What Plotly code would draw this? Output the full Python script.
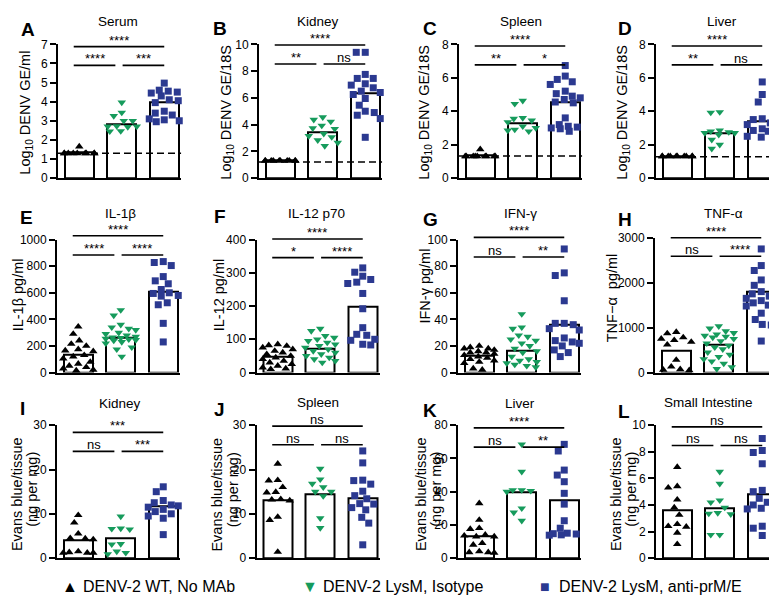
import plotly.graph_objects as go

W, H = 777, 603
FONT = 'Liberation Sans, Arial, Helvetica, sans-serif'

group_names = ['DENV-2 WT, No MAb', 'DENV-2 LysM, Isotype', 'DENV-2 LysM, anti-prM/E']

# A  serum (log10 DENV GE/ml)
serum_wt = [1.65, 1.3, 1.3, 1.3, 1.3, 1.3, 1.3, 1.3, 1.3, 1.3]
serum_iso = [3.96, 3.43, 3.25, 3.0, 3.0, 2.72, 2.7, 2.7, 2.68, 2.46, 2.45]
serum_prm = [4.97, 4.6, 4.55, 4.5, 4.45, 4.3, 4.1, 4.05, 3.95, 3.5, 3.4, 3.3, 3.1, 3.05, 3.0, 2.95]
serum_bar = [1.35, 2.84, 3.99]
serum_sig = ['****', '****', '***']
serum_sig_y = [6.88, 5.9]
serum_lod = 1.3

# B  kidney (log10 DENV GE/18S)
kidney_wt = [1.3, 1.3, 1.3, 1.3, 1.3, 1.3, 1.3, 1.3, 1.3, 1.3]
kidney_iso = [4.55, 4.37, 4.23, 3.93, 3.73, 3.68, 3.32, 3.15, 3.07, 2.83, 2.65, 2.4]
kidney_prm = [9.4, 9.4, 7.75, 7.45, 7.45, 7.05, 6.95, 6.75, 6.5, 6.4, 6.25, 5.95, 5.45, 5.0, 4.9, 4.7, 4.45, 3.05]
kidney_bar = [1.3, 3.39, 6.35]
kidney_sig = ['****', '**', 'ns']
kidney_sig_y = [9.95, 8.53]
kidney_lod = 1.2

# C  spleen (log10 DENV GE/18S)
spleen_wt = [1.72, 1.3, 1.3, 1.3, 1.3, 1.3, 1.3, 1.3, 1.3, 1.3]
spleen_iso = [4.63, 4.44, 3.6, 3.55, 3.45, 3.35, 3.1, 3.0, 2.9, 2.85, 2.8]
spleen_prm = [6.73, 6.1, 5.9, 5.76, 5.6, 5.2, 5.05, 4.9, 4.8, 4.7, 4.55, 4.5, 3.6, 3.2, 3.1, 3.05, 3.0, 2.95, 2.8]
spleen_bar = [1.37, 3.28, 4.53]
spleen_sig = ['****', '**', '*']
spleen_sig_y = [7.9, 6.77]
spleen_lod = 1.32

# D  liver (log10 DENV GE/18S)
liver_wt = [1.3, 1.3, 1.3, 1.3, 1.3, 1.3, 1.3, 1.3, 1.3, 1.3]
liver_iso = [3.95, 3.92, 2.85, 2.8, 2.75, 2.7, 2.7, 2.6, 2.3, 2.0, 1.76]
liver_prm = [5.75, 5.0, 4.55, 3.55, 3.5, 3.3, 3.2, 2.95, 2.9, 2.85, 2.8, 2.5, 2.45, 2.4]
liver_bar = [1.33, 2.67, 3.38]
liver_sig = ['****', '**', 'ns']
liver_sig_y = [7.9, 6.77]
liver_lod = 1.28

# E  IL-1b (pg/ml)
il1b_wt = [345, 290, 240, 215, 200, 175, 165, 160, 130, 120, 105, 80, 65, 50, 40, 30, 20, 15]
il1b_iso = [470, 430, 360, 340, 330, 320, 300, 290, 280, 270, 265, 260, 255, 250, 245, 240, 230, 220, 190, 175, 120]
il1b_prm = [835, 828, 805, 722, 690, 668, 625, 600, 595, 580, 575, 525, 510, 370, 230]
il1b_bar = [135, 263, 612]
il1b_sig = ['****', '****', '****']
il1b_sig_y = [1029, 884]

# F  IL-12 p70 (pg/ml)
il12_wt = [85, 82, 80, 75, 70, 65, 60, 55, 50, 45, 40, 35, 30, 25, 20, 15, 12, 10]
il12_iso = [132, 125, 110, 105, 100, 95, 90, 85, 80, 75, 70, 65, 60, 55, 50, 45, 40, 35, 30]
il12_prm = [315, 302, 290, 280, 272, 268, 238, 192, 135, 115, 112, 100, 97, 85, 83]
il12_bar = [49, 71, 197]
il12_sig = ['****', '*', '****']
il12_sig_y = [402, 346]

# G  IFN-g (pg/ml)
ifng_wt = [20, 19, 18, 18, 17, 16, 15, 15, 14, 13, 12, 11, 10, 9, 8, 7, 3, 2]
ifng_iso = [44, 34, 33, 28, 27, 25, 24, 22, 20, 18, 16, 15, 12, 10, 9, 8, 7, 6, 5, 4]
ifng_prm = [93, 75, 73, 54, 37, 37, 36, 33, 32, 26, 24, 23, 22, 20, 17, 15, 12]
ifng_bar = [12.8, 16.5, 36]
ifng_sig = ['****', 'ns', '**']
ifng_sig_y = [101.7, 87]

# H  TNF-a (pg/ml)
tnfa_wt = [900, 870, 780, 750, 720, 680, 620, 280, 130, 70, 60, 50]
tnfa_iso = [1030, 980, 920, 880, 850, 820, 800, 780, 750, 700, 650, 600, 560, 520, 450, 400,
            350, 300, 250, 200, 120, 80]
tnfa_prm = [2750, 2380, 2270, 2060, 1940, 1800, 1750, 1700, 1650, 1600, 1570, 1550, 1500, 1480,
            1320, 1180, 1070, 1060, 700]
tnfa_bar = [486, 616, 1790]
tnfa_sig = ['****', 'ns', '****']
tnfa_sig_y = [3000, 2587]

# I  Evans blue, kidney (ng per mg)
eb_kidney_wt = [9.7, 8.0, 5.5, 4.5, 4.4, 4.2, 1.5, 1.3, 1.2, 1.2, 1.2]
eb_kidney_iso = [9.4, 6.7, 6.6, 6.5, 3.2, 3.1, 1.5, 1.2, 0.9]
eb_kidney_prm = [16.1, 15.0, 13.0, 12.5, 12.0, 11.8, 11.5, 11.0, 10.5, 10.0, 9.5, 9.0, 5.3]
eb_kidney_bar = [4.05, 4.4, 11.6]
eb_kidney_sig = ['***', 'ns', '***']
eb_kidney_sig_y = [28.4, 24.1]

# J  Evans blue, spleen
eb_spleen_wt = [21.3, 17.6, 17.5, 16.0, 14.9, 14.8, 13.3, 13.2, 13.0, 9.3, 8.6, 1.4]
eb_spleen_iso = [20.2, 17.8, 16.8, 16.0, 15.0, 15.0, 14.0, 9.0, 6.8]
eb_spleen_prm = [24.2, 21.5, 17.6, 17.5, 16.7, 15.1, 14.1, 13.4, 12.3, 12.2, 11.4, 10.9, 9.2, 7.9, 3.0]
eb_spleen_bar = [13.0, 14.4, 13.6]
eb_spleen_sig = ['ns', 'ns', 'ns']
eb_spleen_sig_y = [29.8, 25.6]

# K  Evans blue, liver
eb_liver_wt = [33, 23, 18, 17.5, 14, 13.5, 13, 13, 9, 8, 4, 3.5, 3.5, 3.2]
eb_liver_iso = [68.5, 52, 41, 41, 40.5, 40, 30, 27.5, 22.5]
eb_liver_prm = [68.5, 64.5, 53, 50, 46, 39, 32.5, 22.5, 18, 15, 14.7, 14.5, 14, 13.8]
eb_liver_bar = [13.2, 39.7, 34.8]
eb_liver_sig = ['****', 'ns', '**']
eb_liver_sig_y = [78.4, 66.8]

# L  Evans blue, small intestine
eb_si_wt = [6.85, 5.4, 5.3, 4.4, 3.8, 3.25, 2.55, 2.4, 2.35, 1.9, 1.05]
eb_si_iso = [6.5, 5.6, 4.35, 4.2, 3.8, 3.4, 3.35, 3.3, 1.75, 1.75]
eb_si_prm = [9.0, 8.1, 7.95, 7.1, 5.1, 5.0, 4.5, 4.2, 4.0, 3.85, 3.75, 3.7, 2.4, 2.25, 1.7]
eb_si_bar = [3.6, 3.76, 4.84]
eb_si_sig = ['ns', 'ns', 'ns']
eb_si_sig_y = [9.88, 8.48]

# ---------------- panel layout (pixel positions) ----------------
LOG_GE_ML = ['Log<sub>10</sub> DENV GE/ml']
LOG_GE_18S = ['Log<sub>10</sub> DENV GE/18S']
EVANS = ['Evans blue/tissue', '(ng per mg)']

panels = [
    dict(letter='A', title='Serum', ytitle=LOG_GE_ML, pts=[serum_wt, serum_iso, serum_prm],
         bar=serum_bar, sig=serum_sig, sig_y=serum_sig_y, lod=serum_lod, ymax=7, dtick=1,
         x0=50, top=30, bottom=167, lxy=(20, 15), txy=(110, 7), yt=[(18, 100)]),
    dict(letter='B', title='Kidney', ytitle=LOG_GE_18S, pts=[kidney_wt, kidney_iso, kidney_prm],
         bar=kidney_bar, sig=kidney_sig, sig_y=kidney_sig_y, lod=kidney_lod, ymax=10, dtick=2,
         x0=251, top=30, bottom=167, lxy=(212, 14), txy=(310, 7), yt=[(219, 100)]),
    dict(letter='C', title='Spleen', ytitle=LOG_GE_18S, pts=[spleen_wt, spleen_iso, spleen_prm],
         bar=spleen_bar, sig=spleen_sig, sig_y=spleen_sig_y, lod=spleen_lod, ymax=8, dtick=2,
         x0=451, top=30, bottom=167, lxy=(422, 14), txy=(513, 7), yt=[(417, 100)]),
    dict(letter='D', title='Liver', ytitle=LOG_GE_18S, pts=[liver_wt, liver_iso, liver_prm],
         bar=liver_bar, sig=liver_sig, sig_y=liver_sig_y, lod=liver_lod, ymax=8, dtick=2,
         x0=648, top=30, bottom=167, lxy=(617, 14), txy=(714, 7), yt=[(615, 100)]),
    dict(letter='E', title='IL-1β', ytitle=['IL-1β pg/ml'], pts=[il1b_wt, il1b_iso, il1b_prm],
         bar=il1b_bar, sig=il1b_sig, sig_y=il1b_sig_y, lod=None, ymax=1000, dtick=200,
         x0=49, top=230, bottom=366, lxy=(18, 207), txy=(112, 203), yt=[(10, 287)]),
    dict(letter='F', title='IL-12 p70', ytitle=['IL-12 pg/ml'], pts=[il12_wt, il12_iso, il12_prm],
         bar=il12_bar, sig=il12_sig, sig_y=il12_sig_y, lod=None, ymax=400, dtick=100,
         x0=248.5, top=230, bottom=366, lxy=(212, 206), txy=(308, 203), yt=[(211, 287)]),
    dict(letter='G', title='IFN-γ', ytitle=['IFN-γ pg/ml'], pts=[ifng_wt, ifng_iso, ifng_prm],
         bar=ifng_bar, sig=ifng_sig, sig_y=ifng_sig_y, lod=None, ymax=100, dtick=20,
         x0=450, top=230, bottom=366, lxy=(422, 209), txy=(512, 203), yt=[(417, 278)]),
    dict(letter='H', title='TNF-α', ytitle=['TNF−α  pg/ml'], pts=[tnfa_wt, tnfa_iso, tnfa_prm],
         bar=tnfa_bar, sig=tnfa_sig, sig_y=tnfa_sig_y, lod=None, ymax=3000, dtick=1000,
         x0=647, top=228, bottom=366, lxy=(617, 209), txy=(715, 203), yt=[(604, 290)]),
    dict(letter='I', title='Kidney', ytitle=EVANS, pts=[eb_kidney_wt, eb_kidney_iso, eb_kidney_prm],
         bar=eb_kidney_bar, sig=eb_kidney_sig, sig_y=eb_kidney_sig_y, lod=None, ymax=30, dtick=10,
         x0=49, top=420, bottom=556, lxy=(14, 403), txy=(112, 398), yt=[(8.5, 491), (24, 486)]),
    dict(letter='J', title='Spleen', ytitle=EVANS, pts=[eb_spleen_wt, eb_spleen_iso, eb_spleen_prm],
         bar=eb_spleen_bar, sig=eb_spleen_sig, sig_y=eb_spleen_sig_y, lod=None, ymax=30, dtick=10,
         x0=248.5, top=420, bottom=556, lxy=(212, 404), txy=(310, 397), yt=[(209, 491), (224.5, 486)]),
    dict(letter='K', title='Liver', ytitle=EVANS, pts=[eb_liver_wt, eb_liver_iso, eb_liver_prm],
         bar=eb_liver_bar, sig=eb_liver_sig, sig_y=eb_liver_sig_y, lod=None, ymax=80, dtick=20,
         x0=450, top=420, bottom=556, lxy=(422, 405), txy=(512, 398), yt=[(412.5, 491), (428, 486)]),
    dict(letter='L', title='Small Intestine', ytitle=EVANS, pts=[eb_si_wt, eb_si_iso, eb_si_prm],
         bar=eb_si_bar, sig=eb_si_sig, sig_y=eb_si_sig_y, lod=None, ymax=10, dtick=2,
         x0=648, top=420, bottom=556, lxy=(616, 406), txy=(700, 397), yt=[(607.5, 491), (623, 486)]),
]

XMIN, XMAX = -0.5, 2.4
PX_PER_X = 42.5
BAR_W = 0.69

symbols = ['triangle-up', 'triangle-down', 'square']
colors = ['#000000', '#169b5c', '#2b3990']
sizes = [7.5, 7.5, 7]


def swarm(vals, px_per_y, half=15, dmin=8.5):
    # spread points sideways so that they do not sit on top of each other
    order = sorted(range(len(vals)), key=lambda k: -vals[k])
    cands = sorted(range(-half, half + 1), key=abs)
    placed = []
    out = [0.0] * len(vals)
    for k in order:
        y = vals[k] * px_per_y
        best, best_s = 0, None
        for c in cands:
            s = 0.0
            for px, py in placed:
                d = ((px - c) ** 2 + (py - y) ** 2) ** 0.5
                if d < dmin:
                    s += dmin - d
            if best_s is None or s < best_s - 1e-9:
                best, best_s = c, s
        placed.append((best, y))
        out[k] = best / PX_PER_X
    return out


fig = go.Figure()
shapes = []
annotations = []

for i, p in enumerate(panels, start=1):
    s = '' if i == 1 else str(i)
    xa, ya = 'x' + s, 'y' + s
    xdom, ydom = 'x' + s + ' domain', 'y' + s + ' domain'

    x1 = p['x0'] + (XMAX - XMIN) * PX_PER_X
    fig.update_layout({
        'xaxis' + s: dict(domain=[p['x0'] / W, x1 / W], range=[XMIN, XMAX], anchor=ya,
                          showline=True, linewidth=2, linecolor='black', showgrid=False,
                          zeroline=False, showticklabels=False, ticks='', fixedrange=True),
        'yaxis' + s: dict(domain=[1 - p['bottom'] / H, 1 - p['top'] / H], range=[0, p['ymax']],
                          anchor=xa, tickmode='linear', tick0=0, dtick=p['dtick'],
                          showline=True, linewidth=2, linecolor='black', showgrid=False,
                          zeroline=False, ticks='outside', ticklen=6, tickwidth=1.6,
                          tickcolor='black', tickfont=dict(size=12, color='black'),
                          fixedrange=True),
    })

    fig.add_trace(go.Bar(
        x=[0, 1, 2], y=p['bar'], width=BAR_W, xaxis=xa, yaxis=ya,
        marker=dict(color='white', line=dict(color='black', width=2)),
        showlegend=False, hoverinfo='skip'
    ))

    if p['lod'] is not None:
        fig.add_trace(go.Scatter(
            x=[XMIN, XMAX], y=[p['lod'], p['lod']], mode='lines', xaxis=xa, yaxis=ya,
            line=dict(color='black', width=1.6, dash='7px,4px'),
            showlegend=False, hoverinfo='skip'
        ))

    px_per_y = (p['bottom'] - p['top']) / p['ymax']
    for g, vals in enumerate(p['pts']):
        offs = swarm(vals, px_per_y)
        fig.add_trace(go.Scatter(
            x=[g + o for o in offs], y=vals, mode='markers', xaxis=xa, yaxis=ya,
            name=group_names[g], showlegend=False, cliponaxis=False,
            marker=dict(symbol=symbols[g], size=sizes[g], color=colors[g], line=dict(width=0))
        ))

    def fx(v):
        return (v - XMIN) / (XMAX - XMIN)

    def fy(v):
        return v / p['ymax']

    top_y, low_y = p['sig_y']
    for (a, b), lvl, lab in [((-0.13, 2.0), top_y, p['sig'][0]),
                             ((-0.13, 0.85), low_y, p['sig'][1]),
                             ((1.02, 2.0), low_y, p['sig'][2])]:
        shapes.append(dict(type='line', xref=xdom, yref=ydom, x0=fx(a), x1=fx(b),
                           y0=fy(lvl), y1=fy(lvl), line=dict(color='black', width=1.6)))
        annotations.append(dict(xref=xdom, yref=ydom, x=fx((a + b) / 2), y=fy(lvl),
                                text=lab, showarrow=False, xanchor='center', yanchor='bottom',
                                yshift=-2 if '*' in lab else -2, borderpad=0,
                                font=dict(size=13, color='black')))

    annotations.append(dict(xref='paper', yref='paper', x=p['lxy'][0] / W, y=1 - p['lxy'][1] / H,
                            text='<b>' + p['letter'] + '</b>', showarrow=False,
                            xanchor='center', yanchor='middle',
                            font=dict(size=19, color='black')))
    annotations.append(dict(xref='paper', yref='paper', x=p['txy'][0] / W, y=1 - p['txy'][1] / H,
                            text=p['title'], showarrow=False, xanchor='center', yanchor='middle',
                            borderpad=0, font=dict(size=13.5, color='black')))
    for line, (cx, cy) in zip(p['ytitle'], p['yt']):
        annotations.append(dict(xref='paper', yref='paper', x=cx / W, y=1 - cy / H,
                                text=line, textangle=-90, showarrow=False,
                                xanchor='center', yanchor='middle',
                                font=dict(size=14.5, color='black')))

# legend along the bottom
legend_sym = ['▲', '▼', '■']
legend_sym_x = [62, 302, 537]
legend_txt_x = [73, 313, 549]
for g in range(3):
    annotations.append(dict(xref='paper', yref='paper', x=legend_sym_x[g] / W, y=1 - 585 / H,
                            text=legend_sym[g], showarrow=False, xanchor='center',
                            yanchor='middle', font=dict(size=16, color=colors[g])))
    annotations.append(dict(xref='paper', yref='paper', x=legend_txt_x[g] / W, y=1 - 585 / H,
                            text=group_names[g], showarrow=False, xanchor='left',
                            yanchor='middle', font=dict(size=16, color='black')))

fig.update_layout(
    width=W, height=H,
    margin=dict(l=0, r=0, t=0, b=0),
    paper_bgcolor='white', plot_bgcolor='white',
    font=dict(family=FONT, color='black'),
    showlegend=False,
    bargap=0,
    shapes=shapes,
    annotations=annotations,
)

fig.write_html('out.html')
